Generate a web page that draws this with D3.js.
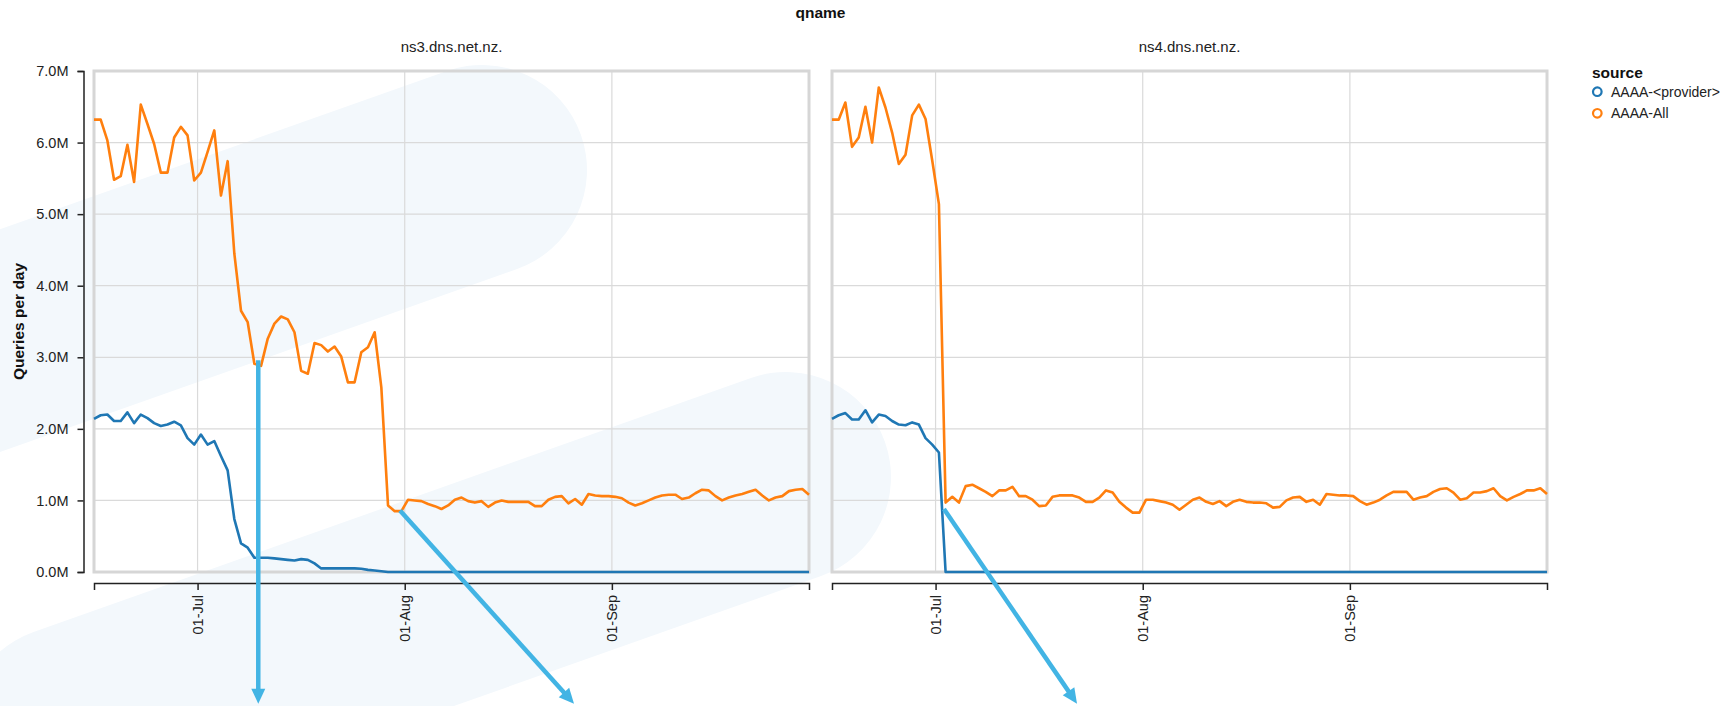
<!DOCTYPE html>
<html>
<head>
<meta charset="utf-8">
<script src="https://cdn.jsdelivr.net/npm/d3@7"></script>
<style>
  body { margin: 0; background: #fff; }
  svg { display: block; font-family: "Liberation Sans", Arial, Helvetica, sans-serif; }
</style>
</head>
<body>
<svg id="chart" width="1735" height="706"></svg>
<script>
// one sample per day, stamped at noon local time
const firstDay = "2018-06-15";
const lastDay = "2018-09-30";
const sampleHour = 12;

const qnames = ["ns3.dns.net.nz.", "ns4.dns.net.nz."];
const sources = ["AAAA-<provider>", "AAAA-All"];
const yTicks = [0, 1, 2, 3, 4, 5, 6, 7];

// queries per day, in millions
const ns3Provider = [
  2.14, 2.19, 2.20, 2.11, 2.11, 2.23, 2.08, 2.20, 2.15, 2.08, 2.04, 2.06, 2.10, 2.05, 1.87, 1.78, 1.92, 1.78, 1.83, 1.62,
  1.42, 0.74, 0.40, 0.34, 0.20, 0.20, 0.20, 0.19, 0.18, 0.17, 0.16, 0.18, 0.17, 0.12, 0.05, 0.05, 0.05, 0.05, 0.05, 0.05,
  0.045, 0.03, 0.02, 0.01, 0, 0, 0, 0, 0, 0, 0, 0, 0, 0, 0, 0, 0, 0, 0, 0,
  0, 0, 0, 0, 0, 0, 0, 0, 0, 0, 0, 0, 0, 0, 0, 0, 0, 0, 0, 0,
  0, 0, 0, 0, 0, 0, 0, 0, 0, 0, 0, 0, 0, 0, 0, 0, 0, 0, 0, 0,
  0, 0, 0, 0, 0, 0, 0, 0
];
const ns3All = [
  6.32, 6.32, 6.03, 5.48, 5.53, 5.97, 5.45, 6.53, 6.26, 5.98, 5.58, 5.58, 6.07, 6.22, 6.10, 5.47, 5.58, 5.87, 6.17, 5.26,
  5.74, 4.45, 3.65, 3.49, 2.91, 2.88, 3.26, 3.47, 3.57, 3.53, 3.35, 2.81, 2.77, 3.20, 3.17, 3.08, 3.15, 3.01, 2.65, 2.65,
  3.07, 3.14, 3.35, 2.58, 0.93, 0.85, 0.85, 1.01, 1.00, 0.99, 0.95, 0.92, 0.88, 0.93, 1.01, 1.04, 0.99, 0.97, 0.99, 0.91,
  0.97, 1.00, 0.98, 0.98, 0.98, 0.98, 0.92, 0.92, 1.01, 1.05, 1.06, 0.96, 1.02, 0.94, 1.09, 1.07, 1.06, 1.06, 1.05, 1.03,
  0.97, 0.93, 0.96, 1.00, 1.04, 1.07, 1.08, 1.08, 1.02, 1.04, 1.10, 1.15, 1.14, 1.06, 1.00, 1.04, 1.07, 1.09, 1.12, 1.15,
  1.07, 1.00, 1.04, 1.06, 1.13, 1.15, 1.16, 1.08
];
const ns4Provider = [
  2.14, 2.19, 2.22, 2.13, 2.13, 2.26, 2.09, 2.20, 2.18, 2.11, 2.06, 2.05, 2.09, 2.06, 1.87, 1.78, 1.67, 0, 0, 0,
  0, 0, 0, 0, 0, 0, 0, 0, 0, 0, 0, 0, 0, 0, 0, 0, 0, 0, 0, 0,
  0, 0, 0, 0, 0, 0, 0, 0, 0, 0, 0, 0, 0, 0, 0, 0, 0, 0, 0, 0,
  0, 0, 0, 0, 0, 0, 0, 0, 0, 0, 0, 0, 0, 0, 0, 0, 0, 0, 0, 0,
  0, 0, 0, 0, 0, 0, 0, 0, 0, 0, 0, 0, 0, 0, 0, 0, 0, 0, 0, 0,
  0, 0, 0, 0, 0, 0, 0, 0
];
const ns4All = [
  6.32, 6.32, 6.56, 5.94, 6.07, 6.50, 6.00, 6.77, 6.49, 6.14, 5.70, 5.83, 6.38, 6.53, 6.33, 5.75, 5.14, 0.97, 1.05, 0.97,
  1.20, 1.22, 1.17, 1.12, 1.06, 1.14, 1.14, 1.19, 1.06, 1.06, 1.01, 0.92, 0.93, 1.05, 1.07, 1.07, 1.07, 1.04, 0.98, 0.98,
  1.04, 1.14, 1.11, 0.98, 0.90, 0.83, 0.83, 1.01, 1.01, 0.99, 0.97, 0.94, 0.87, 0.94, 1.01, 1.04, 0.98, 0.95, 0.99, 0.92,
  0.98, 1.01, 0.98, 0.97, 0.97, 0.96, 0.90, 0.91, 1.00, 1.04, 1.05, 0.98, 1.01, 0.94, 1.09, 1.08, 1.07, 1.07, 1.06, 0.99,
  0.94, 0.97, 1.01, 1.07, 1.12, 1.12, 1.12, 1.01, 1.04, 1.06, 1.12, 1.16, 1.17, 1.11, 1.01, 1.03, 1.11, 1.11, 1.13, 1.17,
  1.06, 1.00, 1.05, 1.09, 1.14, 1.14, 1.17, 1.09
];

// annotation arrows, in data terms (panel, time, millions)
const arrows = [
  { panel: 0, from: ["2018-07-10 02:00", 2.96], to: ["2018-07-10 02:00", -1.84] },
  { panel: 0, from: ["2018-07-31 07:00", 0.86], to: ["2018-08-26 08:00", -1.84] },
  { panel: 1, from: ["2018-07-02 06:00", 0.88], to: ["2018-07-22 04:00", -1.84] }
];

const series = [
  { [sources[0]]: ns3Provider, [sources[1]]: ns3All },
  { [sources[0]]: ns4Provider, [sources[1]]: ns4All }
];

const parseDay = d3.timeParse("%Y-%m-%d");
const parseTime = d3.timeParse("%Y-%m-%d %H:%M");
const days = d3.timeDay
  .range(parseDay(firstDay), d3.timeDay.offset(parseDay(lastDay), 1))
  .map((d) => d3.timeHour.offset(d, sampleHour));

const svg = d3.select("#chart");
const panelX = [94, 832];
const panelW = 715;
const plotTop = 71;
const plotBottom = 572;

const x = d3.scaleTime().domain(d3.extent(days)).range([0, panelW]);
const y = d3.scaleLinear().domain([0, 7]).range([plotBottom, plotTop]);
const color = d3.scaleOrdinal().domain(sources).range(["#1f77b4", "#ff7f0e"]);

// pale background swooshes
const swooshes = [
  { cx: 482, cy: 170, len: 1400 },
  { cx: 786, cy: 477, len: 761 }
];
svg
  .append("g")
  .selectAll("rect")
  .data(swooshes)
  .enter()
  .append("rect")
  .attr("transform", (d) => `translate(${d.cx},${d.cy}) rotate(-19.5)`)
  .attr("x", (d) => -d.len - 105)
  .attr("y", -105)
  .attr("width", (d) => d.len + 210)
  .attr("height", 210)
  .attr("rx", 105)
  .attr("fill", "#f3f8fc");

const line = d3
  .line()
  .x((d) => x(d.date))
  .y((d) => y(d.v));

qnames.forEach((q, i) => {
  const g = svg.append("g").attr("transform", `translate(${panelX[i]},0)`);

  // grid
  g.append("g")
    .selectAll("line")
    .data(yTicks)
    .enter()
    .append("line")
    .attr("x1", 0)
    .attr("x2", panelW)
    .attr("y1", (d) => y(d))
    .attr("y2", (d) => y(d))
    .attr("stroke", "#dadada")
    .attr("stroke-width", 1.2);

  g.append("g")
    .selectAll("line")
    .data(x.ticks(d3.timeMonth.every(1)))
    .enter()
    .append("line")
    .attr("x1", (d) => x(d))
    .attr("x2", (d) => x(d))
    .attr("y1", plotTop)
    .attr("y2", plotBottom)
    .attr("stroke", "#dadada")
    .attr("stroke-width", 1.2);

  // frame
  g.append("rect")
    .attr("x", 0)
    .attr("y", plotTop)
    .attr("width", panelW)
    .attr("height", plotBottom - plotTop)
    .attr("fill", "none")
    .attr("stroke", "#d6d6d6")
    .attr("stroke-width", 3);

  // lines
  sources.forEach((s) => {
    const pts = series[i][s].map((v, k) => ({ date: days[k], v }));
    g.append("path")
      .datum(pts)
      .attr("d", line)
      .attr("fill", "none")
      .attr("stroke", color(s))
      .attr("stroke-width", 2.6)
      .attr("stroke-linejoin", "round");
  });

  // x axis
  const xa = g
    .append("g")
    .attr("transform", `translate(0,${plotBottom + 11})`)
    .style("color", "#222")
    .call(
      d3.axisBottom(x)
        .ticks(d3.timeMonth.every(1))
        .tickFormat(d3.timeFormat("%d-%b"))
        .tickSize(7)
    );
  xa.select(".domain").attr("stroke-width", 1.5);
  xa.selectAll(".tick line").attr("stroke-width", 1.5);
  xa.selectAll("text")
    .attr("transform", "rotate(-90)")
    .attr("text-anchor", "end")
    .attr("x", -12)
    .attr("y", 0)
    .attr("dy", "0.35em")
    .attr("font-size", 14.5)
    .attr("font-family", null)
    .attr("fill", "#222");

  // header
  g.append("text")
    .attr("x", panelW / 2)
    .attr("y", 52)
    .attr("text-anchor", "middle")
    .attr("font-size", 15)
    .attr("fill", "#222")
    .text(q);
});

// y axis
const ya = svg
  .append("g")
  .attr("transform", "translate(83.5,0)")
  .style("color", "#222")
  .call(
    d3.axisLeft(y)
      .tickValues(yTicks)
      .tickFormat((d) => d.toFixed(1) + "M")
      .tickSize(6)
      .tickPadding(9)
  );
ya.select(".domain").attr("stroke-width", 1.5);
ya.selectAll(".tick line").attr("stroke-width", 1.5);
ya.selectAll("text").attr("font-size", 14.5).attr("font-family", null).attr("fill", "#222");

svg.append("text")
  .attr("transform", `translate(23.5,${(plotTop + plotBottom) / 2}) rotate(-90)`)
  .attr("text-anchor", "middle")
  .attr("font-size", 15.5)
  .attr("font-weight", "bold")
  .attr("fill", "#111")
  .text("Queries per day");

svg.append("text")
  .attr("x", (panelX[0] + panelX[1] + panelW) / 2)
  .attr("y", 18)
  .attr("text-anchor", "middle")
  .attr("font-size", 15.5)
  .attr("font-weight", "bold")
  .attr("fill", "#111")
  .text("qname");

// legend
const legend = svg.append("g").attr("transform", "translate(1592,0)");
legend.append("text")
  .attr("x", 0)
  .attr("y", 77.5)
  .attr("font-size", 15.5)
  .attr("font-weight", "bold")
  .attr("fill", "#111")
  .text("source");
const item = legend
  .selectAll(".item")
  .data(sources)
  .enter()
  .append("g")
  .attr("transform", (d, k) => `translate(0,${91.7 + k * 21.6})`);
item.append("circle")
  .attr("cx", 5.3)
  .attr("r", 4.3)
  .attr("fill", "none")
  .attr("stroke", (d) => color(d))
  .attr("stroke-width", 2.2);
item.append("text")
  .attr("x", 19)
  .attr("y", 5)
  .attr("font-size", 14)
  .attr("fill", "#222")
  .text((d) => d);

// annotation arrows
const arrowLayer = svg.append("g");
arrows.forEach((a) => {
  const x1 = panelX[a.panel] + x(parseTime(a.from[0]));
  const y1 = y(a.from[1]);
  const x2 = panelX[a.panel] + x(parseTime(a.to[0]));
  const y2 = y(a.to[1]);
  const len = Math.hypot(x2 - x1, y2 - y1);
  const ux = (x2 - x1) / len;
  const uy = (y2 - y1) / len;
  const head = 15;
  const half = 7;
  const bx = x2 - ux * head;
  const by = y2 - uy * head;
  arrowLayer.append("line")
    .attr("x1", x1)
    .attr("y1", y1)
    .attr("x2", bx + ux)
    .attr("y2", by + uy)
    .attr("stroke", "#42b4e4")
    .attr("stroke-width", 4.5);
  arrowLayer.append("path")
    .attr("d", `M${x2},${y2}L${bx - uy * half},${by + ux * half}L${bx + uy * half},${by - ux * half}Z`)
    .attr("fill", "#42b4e4");
});
</script>
</body>
</html>
